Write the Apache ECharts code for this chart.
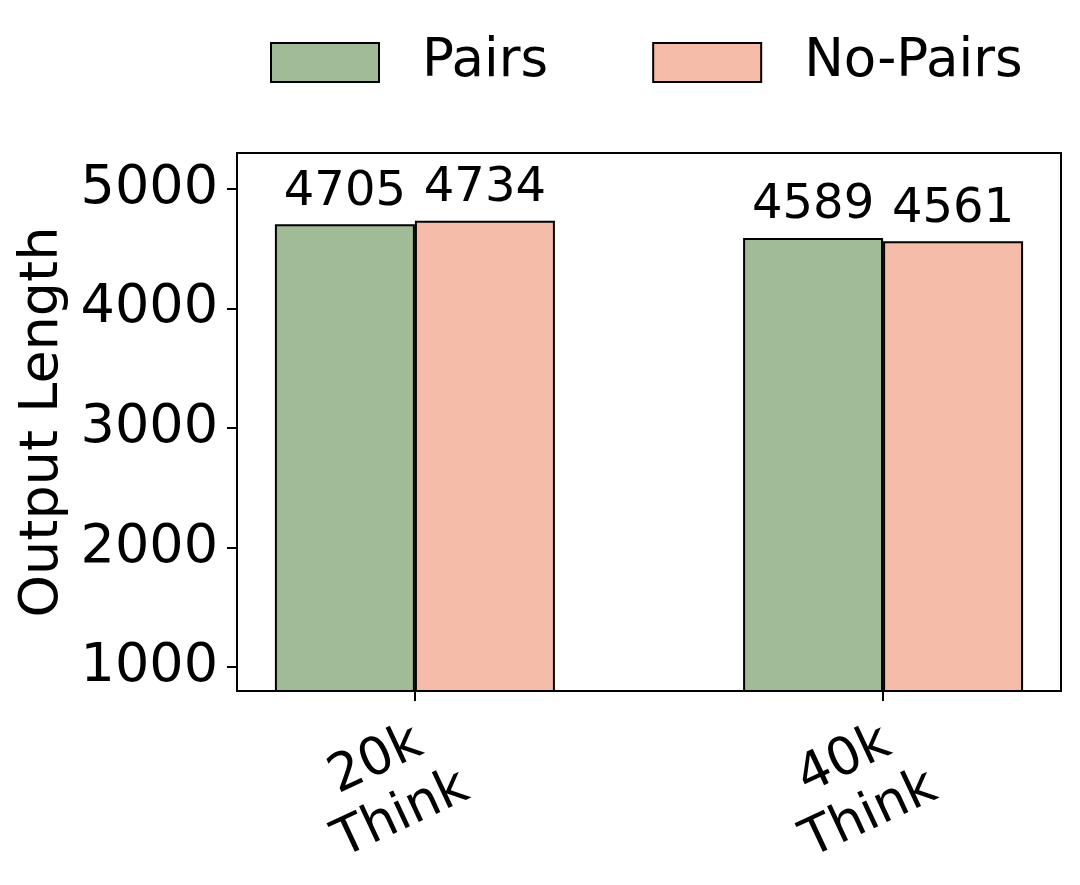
<!DOCTYPE html>
<html>
<head>
<meta charset="utf-8">
<script src="https://cdn.jsdelivr.net/npm/echarts@6/dist/echarts.min.js"></script>
<style>
  html, body { margin: 0; padding: 0; background: #fff; }
  #chart { width: 1080px; height: 885px; }
</style>
</head>
<body>
<div id="chart"></div>
<script>
// data
var groups = ['20k\nThink', '40k\nThink'];
var groupPos = [0, 1];
var seriesNames = ['Pairs', 'No-Pairs'];
var pairs = [4705, 4589];
var noPairs = [4734, 4561];
var yTicks = [1000, 2000, 3000, 4000, 5000];

var font = 'DejaVu Sans';
var green = '#a1bb97';
var pink = '#f5bca9';
var labelShift = -0.056;   // rotated tick labels sit a little left of their tick

function toPoints(vals) {   // [x, y] pairs for the value x axis
  var out = [];
  for (var i = 0; i < vals.length; i++) {
    out.push([groupPos[i], vals[i]]);
  }
  return out;
}

var chart = echarts.init(document.getElementById('chart'));

var option = {
  animation: false,
  backgroundColor: '#fff',
  textStyle: { fontFamily: font, color: '#000' },
  legend: {
    data: seriesNames,
    left: 265,
    top: 31,
    itemWidth: 108,
    itemHeight: 39,
    itemGap: 104,
    icon: 'rect',
    itemStyle: { borderColor: '#000', borderWidth: 2 },
    textStyle: { fontFamily: font, fontSize: 53, color: '#000', padding: [0, 0, 0, 38] }
  },
  grid: {
    left: 237, right: 19, top: 153, bottom: 194,
    outerBoundsMode: 'none',
    containLabel: false,
    show: true, borderColor: '#000', borderWidth: 2
  },
  xAxis: {
    type: 'value',
    min: -0.38,
    max: 1.38,
    splitLine: { show: false },
    axisLine: { show: true, onZero: false, lineStyle: { color: '#000', width: 2 } },
    axisTick: { show: true, customValues: groupPos, length: 10, lineStyle: { color: '#000', width: 2 } },
    axisLabel: {
      customValues: groupPos.map(function (p) { return p + labelShift; }),
      formatter: function (v) { return groups[Math.round(v)]; },
      rotate: 25,
      align: 'center',
      verticalAlign: 'middle',
      margin: 97,
      lineHeight: 60,
      fontSize: 52,
      fontFamily: font,
      color: '#000'
    }
  },
  yAxis: {
    type: 'value',
    min: 800,
    max: 5300,
    name: 'Output Length',
    nameLocation: 'middle',
    nameGap: 148,
    nameTextStyle: { fontSize: 54, fontFamily: font, color: '#000' },
    splitLine: { show: false },
    axisLine: { show: true, onZero: false, lineStyle: { color: '#000', width: 2 } },
    axisTick: { show: true, customValues: yTicks, length: 10, lineStyle: { color: '#000', width: 2 } },
    axisLabel: {
      customValues: yTicks,
      formatter: function (v) { return String(v); },
      margin: 19, fontSize: 54, fontFamily: font, color: '#000'
    }
  },
  series: [
    {
      name: seriesNames[0],
      type: 'bar',
      data: toPoints(pairs),
      barWidth: 140,
      barGap: '0%',
      itemStyle: { color: green, borderColor: '#000', borderWidth: 2 },
      label: { show: true, position: 'top', distance: 8, fontSize: 48, fontFamily: font, color: '#000' }
    },
    {
      name: seriesNames[1],
      type: 'bar',
      data: toPoints(noPairs),
      barWidth: 140,
      barGap: '0%',
      itemStyle: { color: pink, borderColor: '#000', borderWidth: 2 },
      label: { show: true, position: 'top', distance: 8, fontSize: 48, fontFamily: font, color: '#000' }
    }
  ]
};

option.series.forEach(function (s) {
  s.label.formatter = function (p) { return p.value[1]; };
});

chart.setOption(option);
</script>
</body>
</html>
